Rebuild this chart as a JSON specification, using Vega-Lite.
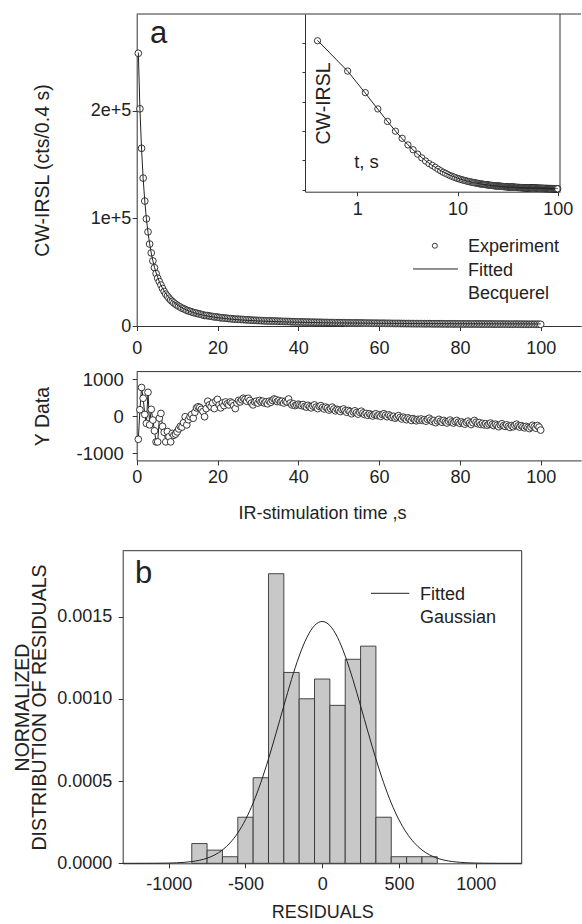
{
  "$schema": "https://vega.github.io/schema/vega-lite/v6.json",
  "width": 582,
  "height": 924,
  "autosize": {"type": "none"},
  "padding": 0,
  "background": "white",
  "config": {
    "view": {"stroke": null},
    "font": "Liberation Sans",
    "axis": {"grid": false, "domainColor": "#333", "tickColor": "#333", "tickSize": 4.5, "labelFontSize": 18, "titleFontSize": 18, "labelColor": "#222", "titleColor": "#222", "titleFontWeight": "normal", "labelFlush": false, "labelOverlap": false},
    "text": {"font": "Liberation Sans", "fontSize": 18, "color": "#222"}
  },
  "datasets": {
    "decay": [
      {"t":0.4,"fit":254100,"cw":253470,"r":-630},
      {"t":0.8,"fit":201700,"cw":201870,"r":170},
      {"t":1.2,"fit":164400,"cw":165170,"r":770},
      {"t":1.6,"fit":137000,"cw":137480,"r":480},
      {"t":2.0,"fit":116100,"cw":116140,"r":40},
      {"t":2.4,"fit":99800,"cw":99600,"r":-200},
      {"t":2.8,"fit":86800,"cw":87440,"r":640},
      {"t":3.2,"fit":76400,"cw":76160,"r":-240},
      {"t":3.6,"fit":67800,"cw":67980,"r":180},
      {"t":4.0,"fit":60600,"cw":60490,"r":-110},
      {"t":4.4,"fit":54600,"cw":54200,"r":-400},
      {"t":4.8,"fit":49500,"cw":48800,"r":-700},
      {"t":5.2,"fit":45100,"cw":44400,"r":-700},
      {"t":5.6,"fit":41300,"cw":41240,"r":-60},
      {"t":6.0,"fit":38000,"cw":38070,"r":70},
      {"t":6.4,"fit":35100,"cw":34820,"r":-280},
      {"t":6.8,"fit":32500,"cw":32060,"r":-440},
      {"t":7.2,"fit":30300,"cw":29600,"r":-700},
      {"t":7.6,"fit":28200,"cw":27780,"r":-420},
      {"t":8.0,"fit":26400,"cw":25840,"r":-560},
      {"t":8.4,"fit":24800,"cw":24100,"r":-700},
      {"t":8.8,"fit":23300,"cw":22830,"r":-470},
      {"t":9.2,"fit":22000,"cw":21480,"r":-520},
      {"t":9.6,"fit":20800,"cw":20310,"r":-490},
      {"t":10.0,"fit":19700,"cw":19270,"r":-430},
      {"t":10.4,"fit":18700,"cw":18350,"r":-350},
      {"t":10.8,"fit":17800,"cw":17520,"r":-280},
      {"t":11.2,"fit":16900,"cw":16600,"r":-300},
      {"t":11.6,"fit":16200,"cw":16020,"r":-180},
      {"t":12.0,"fit":15400,"cw":15380,"r":-20},
      {"t":12.4,"fit":14800,"cw":14560,"r":-240},
      {"t":12.8,"fit":14200,"cw":14100,"r":-100},
      {"t":13.2,"fit":13600,"cw":13580,"r":-20},
      {"t":13.6,"fit":13100,"cw":13140,"r":40},
      {"t":14.0,"fit":12600,"cw":12540,"r":-60},
      {"t":14.4,"fit":12100,"cw":12200,"r":100},
      {"t":14.8,"fit":11700,"cw":11920,"r":220},
      {"t":15.2,"fit":11200,"cw":11450,"r":250},
      {"t":15.6,"fit":10900,"cw":11130,"r":230},
      {"t":16.0,"fit":10500,"cw":10680,"r":180},
      {"t":16.4,"fit":10150,"cw":10270,"r":120},
      {"t":16.8,"fit":9830,"cw":9810,"r":-20},
      {"t":17.2,"fit":9530,"cw":9730,"r":200},
      {"t":17.6,"fit":9250,"cw":9650,"r":400},
      {"t":18.0,"fit":8980,"cw":9280,"r":300},
      {"t":18.4,"fit":8720,"cw":8970,"r":250},
      {"t":18.8,"fit":8480,"cw":8830,"r":350},
      {"t":19.2,"fit":8250,"cw":8450,"r":200},
      {"t":19.6,"fit":8030,"cw":8430,"r":400},
      {"t":20.0,"fit":7820,"cw":8270,"r":450},
      {"t":20.4,"fit":7620,"cw":7920,"r":300},
      {"t":20.8,"fit":7440,"cw":7660,"r":220},
      {"t":21.2,"fit":7260,"cw":7610,"r":350},
      {"t":21.6,"fit":7090,"cw":7370,"r":280},
      {"t":22.0,"fit":6930,"cw":7310,"r":380},
      {"t":22.4,"fit":6770,"cw":7100,"r":330},
      {"t":22.8,"fit":6620,"cw":6920,"r":300},
      {"t":23.2,"fit":6480,"cw":6860,"r":380},
      {"t":23.6,"fit":6340,"cw":6690,"r":350},
      {"t":24.0,"fit":6210,"cw":6490,"r":280},
      {"t":24.4,"fit":6090,"cw":6290,"r":200},
      {"t":24.8,"fit":5970,"cw":6320,"r":350},
      {"t":25.2,"fit":5850,"cw":6270,"r":420},
      {"t":25.6,"fit":5740,"cw":6120,"r":380},
      {"t":26.0,"fit":5630,"cw":6070,"r":440},
      {"t":26.4,"fit":5530,"cw":6010,"r":480},
      {"t":26.8,"fit":5430,"cw":5880,"r":450},
      {"t":27.2,"fit":5330,"cw":5730,"r":400},
      {"t":27.6,"fit":5240,"cw":5720,"r":480},
      {"t":28.0,"fit":5160,"cw":5580,"r":420},
      {"t":28.4,"fit":5070,"cw":5420,"r":350},
      {"t":28.8,"fit":4990,"cw":5290,"r":300},
      {"t":29.2,"fit":4910,"cw":5290,"r":380},
      {"t":29.6,"fit":4830,"cw":5230,"r":400},
      {"t":30.0,"fit":4760,"cw":5110,"r":350},
      {"t":30.4,"fit":4690,"cw":5110,"r":420},
      {"t":30.8,"fit":4620,"cw":5000,"r":380},
      {"t":31.2,"fit":4550,"cw":4950,"r":400},
      {"t":31.6,"fit":4490,"cw":4840,"r":350},
      {"t":32.0,"fit":4430,"cw":4810,"r":380},
      {"t":32.4,"fit":4370,"cw":4700,"r":330},
      {"t":32.8,"fit":4310,"cw":4710,"r":400},
      {"t":33.2,"fit":4250,"cw":4620,"r":370},
      {"t":33.6,"fit":4200,"cw":4620,"r":420},
      {"t":34.0,"fit":4150,"cw":4610,"r":460},
      {"t":34.4,"fit":4100,"cw":4540,"r":440},
      {"t":34.8,"fit":4050,"cw":4440,"r":390},
      {"t":35.2,"fit":4000,"cw":4420,"r":420},
      {"t":35.6,"fit":3950,"cw":4330,"r":380},
      {"t":36.0,"fit":3900,"cw":4300,"r":400},
      {"t":36.4,"fit":3860,"cw":4210,"r":350},
      {"t":36.8,"fit":3820,"cw":4220,"r":400},
      {"t":37.2,"fit":3780,"cw":4160,"r":380},
      {"t":37.6,"fit":3740,"cw":4200,"r":460},
      {"t":38.0,"fit":3700,"cw":4050,"r":350},
      {"t":38.4,"fit":3660,"cw":3960,"r":300},
      {"t":38.8,"fit":3620,"cw":3950,"r":330},
      {"t":39.2,"fit":3580,"cw":3860,"r":280},
      {"t":39.6,"fit":3550,"cw":3850,"r":300},
      {"t":40.0,"fit":3510,"cw":3830,"r":320},
      {"t":40.4,"fit":3480,"cw":3780,"r":300},
      {"t":40.8,"fit":3450,"cw":3730,"r":280},
      {"t":41.2,"fit":3410,"cw":3720,"r":310},
      {"t":41.6,"fit":3380,"cw":3640,"r":260},
      {"t":42.0,"fit":3350,"cw":3590,"r":240},
      {"t":42.4,"fit":3320,"cw":3610,"r":290},
      {"t":42.8,"fit":3290,"cw":3540,"r":250},
      {"t":43.2,"fit":3270,"cw":3490,"r":220},
      {"t":43.6,"fit":3240,"cw":3510,"r":270},
      {"t":44.0,"fit":3210,"cw":3510,"r":300},
      {"t":44.4,"fit":3190,"cw":3430,"r":240},
      {"t":44.8,"fit":3160,"cw":3360,"r":200},
      {"t":45.2,"fit":3140,"cw":3400,"r":260},
      {"t":45.6,"fit":3110,"cw":3390,"r":280},
      {"t":46.0,"fit":3090,"cw":3320,"r":230},
      {"t":46.4,"fit":3060,"cw":3250,"r":190},
      {"t":46.8,"fit":3040,"cw":3280,"r":240},
      {"t":47.2,"fit":3020,"cw":3230,"r":210},
      {"t":47.6,"fit":3000,"cw":3160,"r":160},
      {"t":48.0,"fit":2980,"cw":3180,"r":200},
      {"t":48.4,"fit":2950,"cw":3190,"r":240},
      {"t":48.8,"fit":2930,"cw":3120,"r":190},
      {"t":49.2,"fit":2910,"cw":3050,"r":140},
      {"t":49.6,"fit":2900,"cw":3080,"r":180},
      {"t":50.0,"fit":2880,"cw":3040,"r":160},
      {"t":50.4,"fit":2860,"cw":2980,"r":120},
      {"t":50.8,"fit":2840,"cw":3010,"r":170},
      {"t":51.2,"fit":2820,"cw":3010,"r":190},
      {"t":51.6,"fit":2800,"cw":2940,"r":140},
      {"t":52.0,"fit":2790,"cw":2890,"r":100},
      {"t":52.4,"fit":2770,"cw":2920,"r":150},
      {"t":52.8,"fit":2750,"cw":2870,"r":120},
      {"t":53.2,"fit":2740,"cw":2800,"r":60},
      {"t":53.6,"fit":2720,"cw":2830,"r":110},
      {"t":54.0,"fit":2710,"cw":2850,"r":140},
      {"t":54.4,"fit":2690,"cw":2780,"r":90},
      {"t":54.8,"fit":2680,"cw":2730,"r":50},
      {"t":55.2,"fit":2660,"cw":2760,"r":100},
      {"t":55.6,"fit":2650,"cw":2780,"r":130},
      {"t":56.0,"fit":2630,"cw":2710,"r":80},
      {"t":56.4,"fit":2620,"cw":2660,"r":40},
      {"t":56.8,"fit":2600,"cw":2670,"r":70},
      {"t":57.2,"fit":2590,"cw":2610,"r":20},
      {"t":57.6,"fit":2580,"cw":2640,"r":60},
      {"t":58.0,"fit":2570,"cw":2600,"r":30},
      {"t":58.4,"fit":2550,"cw":2550,"r":0},
      {"t":58.8,"fit":2540,"cw":2580,"r":40},
      {"t":59.2,"fit":2530,"cw":2590,"r":60},
      {"t":59.6,"fit":2520,"cw":2530,"r":10},
      {"t":60.0,"fit":2510,"cw":2540,"r":30},
      {"t":60.4,"fit":2490,"cw":2480,"r":-10},
      {"t":60.8,"fit":2480,"cw":2520,"r":40},
      {"t":61.2,"fit":2470,"cw":2530,"r":60},
      {"t":61.6,"fit":2460,"cw":2480,"r":20},
      {"t":62.0,"fit":2450,"cw":2430,"r":-20},
      {"t":62.4,"fit":2440,"cw":2470,"r":30},
      {"t":62.8,"fit":2430,"cw":2430,"r":0},
      {"t":63.2,"fit":2420,"cw":2380,"r":-40},
      {"t":63.6,"fit":2410,"cw":2400,"r":-10},
      {"t":64.0,"fit":2400,"cw":2340,"r":-60},
      {"t":64.4,"fit":2390,"cw":2360,"r":-30},
      {"t":64.8,"fit":2380,"cw":2390,"r":10},
      {"t":65.2,"fit":2370,"cw":2330,"r":-40},
      {"t":65.6,"fit":2360,"cw":2280,"r":-80},
      {"t":66.0,"fit":2350,"cw":2320,"r":-30},
      {"t":66.4,"fit":2340,"cw":2280,"r":-60},
      {"t":66.8,"fit":2330,"cw":2230,"r":-100},
      {"t":67.2,"fit":2330,"cw":2280,"r":-50},
      {"t":67.6,"fit":2320,"cw":2240,"r":-80},
      {"t":68.0,"fit":2310,"cw":2190,"r":-120},
      {"t":68.4,"fit":2300,"cw":2230,"r":-70},
      {"t":68.8,"fit":2290,"cw":2190,"r":-100},
      {"t":69.2,"fit":2290,"cw":2160,"r":-130},
      {"t":69.6,"fit":2280,"cw":2190,"r":-90},
      {"t":70.0,"fit":2270,"cw":2160,"r":-110},
      {"t":70.4,"fit":2260,"cw":2180,"r":-80},
      {"t":70.8,"fit":2250,"cw":2130,"r":-120},
      {"t":71.2,"fit":2250,"cw":2150,"r":-100},
      {"t":71.6,"fit":2240,"cw":2100,"r":-140},
      {"t":72.0,"fit":2230,"cw":2140,"r":-90},
      {"t":72.4,"fit":2230,"cw":2170,"r":-60},
      {"t":72.8,"fit":2220,"cw":2110,"r":-110},
      {"t":73.2,"fit":2210,"cw":2060,"r":-150},
      {"t":73.6,"fit":2200,"cw":2080,"r":-120},
      {"t":74.0,"fit":2200,"cw":2020,"r":-180},
      {"t":74.4,"fit":2190,"cw":2060,"r":-130},
      {"t":74.8,"fit":2190,"cw":2100,"r":-90},
      {"t":75.2,"fit":2180,"cw":2040,"r":-140},
      {"t":75.6,"fit":2170,"cw":2000,"r":-170},
      {"t":76.0,"fit":2170,"cw":2050,"r":-120},
      {"t":76.4,"fit":2160,"cw":2000,"r":-160},
      {"t":76.8,"fit":2150,"cw":1960,"r":-190},
      {"t":77.2,"fit":2150,"cw":2010,"r":-140},
      {"t":77.6,"fit":2140,"cw":2030,"r":-110},
      {"t":78.0,"fit":2140,"cw":1980,"r":-160},
      {"t":78.4,"fit":2130,"cw":1940,"r":-190},
      {"t":78.8,"fit":2130,"cw":1980,"r":-150},
      {"t":79.2,"fit":2120,"cw":2000,"r":-120},
      {"t":79.6,"fit":2120,"cw":1950,"r":-170},
      {"t":80.0,"fit":2110,"cw":1910,"r":-200},
      {"t":80.4,"fit":2100,"cw":1940,"r":-160},
      {"t":80.8,"fit":2100,"cw":1910,"r":-190},
      {"t":81.2,"fit":2090,"cw":1870,"r":-220},
      {"t":81.6,"fit":2090,"cw":1920,"r":-170},
      {"t":82.0,"fit":2080,"cw":1940,"r":-140},
      {"t":82.4,"fit":2080,"cw":1890,"r":-190},
      {"t":82.8,"fit":2070,"cw":1840,"r":-230},
      {"t":83.2,"fit":2070,"cw":1890,"r":-180},
      {"t":83.6,"fit":2060,"cw":1940,"r":-120},
      {"t":84.0,"fit":2060,"cw":1890,"r":-170},
      {"t":84.4,"fit":2060,"cw":1850,"r":-210},
      {"t":84.8,"fit":2050,"cw":1870,"r":-180},
      {"t":85.2,"fit":2050,"cw":1820,"r":-230},
      {"t":85.6,"fit":2040,"cw":1840,"r":-200},
      {"t":86.0,"fit":2040,"cw":1800,"r":-240},
      {"t":86.4,"fit":2030,"cw":1820,"r":-210},
      {"t":86.8,"fit":2030,"cw":1780,"r":-250},
      {"t":87.2,"fit":2020,"cw":1800,"r":-220},
      {"t":87.6,"fit":2020,"cw":1830,"r":-190},
      {"t":88.0,"fit":2020,"cw":1790,"r":-230},
      {"t":88.4,"fit":2010,"cw":1750,"r":-260},
      {"t":88.8,"fit":2010,"cw":1790,"r":-220},
      {"t":89.2,"fit":2000,"cw":1750,"r":-250},
      {"t":89.6,"fit":2000,"cw":1710,"r":-290},
      {"t":90.0,"fit":2000,"cw":1760,"r":-240},
      {"t":90.4,"fit":1990,"cw":1780,"r":-210},
      {"t":90.8,"fit":1990,"cw":1730,"r":-260},
      {"t":91.2,"fit":1990,"cw":1710,"r":-280},
      {"t":91.6,"fit":1980,"cw":1740,"r":-240},
      {"t":92.0,"fit":1980,"cw":1700,"r":-280},
      {"t":92.4,"fit":1970,"cw":1660,"r":-310},
      {"t":92.8,"fit":1970,"cw":1710,"r":-260},
      {"t":93.2,"fit":1970,"cw":1680,"r":-290},
      {"t":93.6,"fit":1960,"cw":1710,"r":-250},
      {"t":94.0,"fit":1960,"cw":1740,"r":-220},
      {"t":94.4,"fit":1960,"cw":1690,"r":-270},
      {"t":94.8,"fit":1950,"cw":1650,"r":-300},
      {"t":95.2,"fit":1950,"cw":1690,"r":-260},
      {"t":95.6,"fit":1950,"cw":1660,"r":-290},
      {"t":96.0,"fit":1940,"cw":1620,"r":-320},
      {"t":96.4,"fit":1940,"cw":1660,"r":-280},
      {"t":96.8,"fit":1940,"cw":1630,"r":-310},
      {"t":97.2,"fit":1930,"cw":1590,"r":-340},
      {"t":97.6,"fit":1930,"cw":1630,"r":-300},
      {"t":98.0,"fit":1930,"cw":1680,"r":-250},
      {"t":98.4,"fit":1920,"cw":1630,"r":-290},
      {"t":98.8,"fit":1920,"cw":1590,"r":-330},
      {"t":99.2,"fit":1920,"cw":1660,"r":-260},
      {"t":99.6,"fit":1920,"cw":1620,"r":-300},
      {"t":100.0,"fit":1910,"cw":1530,"r":-380}
    ],
    "bars": [
      {"lo":-850,"hi":-750,"d":0.00012},
      {"lo":-750,"hi":-650,"d":0.00008},
      {"lo":-650,"hi":-550,"d":0.00004},
      {"lo":-550,"hi":-450,"d":0.00028},
      {"lo":-450,"hi":-350,"d":0.00052},
      {"lo":-350,"hi":-250,"d":0.00176},
      {"lo":-250,"hi":-150,"d":0.00116},
      {"lo":-150,"hi":-50,"d":0.00100},
      {"lo":-50,"hi":50,"d":0.00112},
      {"lo":50,"hi":150,"d":0.00096},
      {"lo":150,"hi":250,"d":0.00124},
      {"lo":250,"hi":350,"d":0.00132},
      {"lo":350,"hi":450,"d":0.00028},
      {"lo":450,"hi":550,"d":0.00004},
      {"lo":550,"hi":650,"d":0.00004},
      {"lo":650,"hi":750,"d":0.00004}
    ],
    "gauss": [
      {"x":-1300,"g":0},{"x":-1250,"g":0},{"x":-1200,"g":0.0000001},{"x":-1150,"g":0.0000002},
      {"x":-1100,"g":0.0000004},{"x":-1050,"g":0.0000008},{"x":-1000,"g":0.0000015},{"x":-950,"g":0.000003},
      {"x":-900,"g":0.0000057},{"x":-850,"g":0.0000104},{"x":-800,"g":0.0000182},{"x":-750,"g":0.000031},
      {"x":-700,"g":0.000051},{"x":-650,"g":0.000081},{"x":-600,"g":0.0001245},{"x":-550,"g":0.0001846},
      {"x":-500,"g":0.0002646},{"x":-450,"g":0.0003665},{"x":-400,"g":0.0004906},{"x":-350,"g":0.0006345},
      {"x":-300,"g":0.0007929},{"x":-250,"g":0.0009575},{"x":-200,"g":0.0011173},{"x":-150,"g":0.0012598},
      {"x":-100,"g":0.0013725},{"x":-50,"g":0.001445},{"x":0,"g":0.00147},{"x":50,"g":0.001445},
      {"x":100,"g":0.0013725},{"x":150,"g":0.0012598},{"x":200,"g":0.0011173},{"x":250,"g":0.0009575},
      {"x":300,"g":0.0007929},{"x":350,"g":0.0006345},{"x":400,"g":0.0004906},{"x":450,"g":0.0003665},
      {"x":500,"g":0.0002646},{"x":550,"g":0.0001846},{"x":600,"g":0.0001245},{"x":650,"g":0.000081},
      {"x":700,"g":0.000051},{"x":750,"g":0.000031},{"x":800,"g":0.0000182},{"x":850,"g":0.0000104},
      {"x":900,"g":0.0000057},{"x":950,"g":0.000003},{"x":1000,"g":0.0000015},{"x":1050,"g":0.0000008},
      {"x":1100,"g":0.0000004},{"x":1150,"g":0.0000002},{"x":1200,"g":0.0000001},{"x":1250,"g":0},{"x":1300,"g":0}
    ]
  },
  "layer": [
    {
      "layer": [
        {
          "data": {"name": "decay"},
          "mark": {"type": "circle", "size": 45, "fill": "white", "stroke": "#222", "strokeWidth": 0.9, "opacity": 1},
          "encoding": {
            "x": {"field": "t", "type": "quantitative",
              "scale": {"domain": [0, 110], "range": [136.7, 581.1], "nice": false, "zero": false},
              "axis": {"orient": "bottom", "offset": -598, "values": [0, 20, 40, 60, 80, 100], "labelPadding": 8.9, "title": null}},
            "y": {"field": "cw", "type": "quantitative",
              "scale": {"domain": [0, 290000], "range": [326, 14], "nice": false},
              "axis": {"orient": "left", "offset": -136.7, "values": [0, 100000, 200000], "labelPadding": 1.5,
                "labelExpr": "datum.value == 0 ? '0' : format(datum.value, '.0e')",
                "title": "CW-IRSL  (cts/0.4 s)", "titleFontSize": 19.5, "titlePadding": 38}}
          }
        },
        {
          "data": {"name": "decay"},
          "mark": {"type": "line", "color": "#222", "strokeWidth": 1},
          "encoding": {
            "x": {"field": "t", "type": "quantitative"},
            "y": {"field": "fit", "type": "quantitative"}
          }
        },
        {
          "data": {"values": [{}]},
          "mark": {"type": "rule", "color": "#333", "strokeWidth": 1},
          "encoding": {"x": {"datum": 0, "type": "quantitative"}, "x2": {"datum": 110}, "y": {"datum": 290000, "type": "quantitative"}}
        },
        {
          "data": {"values": [{}]},
          "mark": {"type": "text", "text": "a", "fontSize": 31, "align": "left", "baseline": "alphabetic"},
          "encoding": {"x": {"datum": 3.3, "type": "quantitative"}, "y": {"datum": 263300, "type": "quantitative"}}
        },
        {
          "data": {"values": [{}]},
          "mark": {"type": "circle", "size": 25, "fill": "white", "stroke": "#222", "strokeWidth": 0.9, "opacity": 1},
          "encoding": {"x": {"datum": 73.8, "type": "quantitative"}, "y": {"datum": 74600, "type": "quantitative"}}
        },
        {
          "data": {"values": [{}]},
          "mark": {"type": "rule", "color": "#222", "strokeWidth": 1},
          "encoding": {"x": {"datum": 68.4, "type": "quantitative"}, "x2": {"datum": 79.5}, "y": {"datum": 53000, "type": "quantitative"}}
        },
        {
          "data": {"values": [{}]},
          "mark": {"type": "text", "text": "Experiment", "align": "left", "baseline": "middle"},
          "encoding": {"x": {"datum": 82, "type": "quantitative"}, "y": {"datum": 73000, "type": "quantitative"}}
        },
        {
          "data": {"values": [{}]},
          "mark": {"type": "text", "text": "Fitted", "align": "left", "baseline": "middle"},
          "encoding": {"x": {"datum": 82, "type": "quantitative"}, "y": {"datum": 51100, "type": "quantitative"}}
        },
        {
          "data": {"values": [{}]},
          "mark": {"type": "text", "text": "Becquerel", "align": "left", "baseline": "middle"},
          "encoding": {"x": {"datum": 82, "type": "quantitative"}, "y": {"datum": 29500, "type": "quantitative"}}
        }
      ]
    },
    {
      "layer": [
        {
          "data": {"name": "decay"},
          "mark": {"type": "circle", "size": 40, "fill": "white", "stroke": "#222", "strokeWidth": 0.9, "opacity": 1},
          "encoding": {
            "x": {"field": "t", "type": "quantitative",
              "scale": {"type": "log", "domain": [0.3, 105.5], "range": [305, 560], "nice": false},
              "axis": {"orient": "bottom", "offset": -732.3, "values": [1, 10, 100], "tickSize": 4, "labelPadding": 4.7,
                "title": "t, s", "titleX": 366, "titleY": -30.7, "titleAlign": "center", "titleBaseline": "middle", "titleFontSize": 18.5}},
            "y": {"field": "cw", "type": "quantitative",
              "scale": {"domain": [-3400, 299000], "range": [191.7, 14], "nice": false, "zero": false},
              "axis": {"orient": "left", "offset": -305, "values": [0, 50000, 100000, 150000, 200000, 250000], "labels": false, "tickSize": 3,
                "title": "CW-IRSL", "titleX": 18, "titleY": 103, "titleAngle": -90, "titleAlign": "center", "titleBaseline": "middle", "titleFontSize": 19.5}}
          }
        },
        {
          "data": {"name": "decay"},
          "mark": {"type": "line", "color": "#222", "strokeWidth": 1},
          "encoding": {
            "x": {"field": "t", "type": "quantitative"},
            "y": {"field": "fit", "type": "quantitative"}
          }
        },
        {
          "data": {"values": [{}]},
          "mark": {"type": "rule", "color": "#333", "strokeWidth": 1},
          "encoding": {"x": {"datum": 105.5, "type": "quantitative"}, "y": {"datum": -3400, "type": "quantitative"}, "y2": {"datum": 299000}}
        }
      ]
    },
    {
      "layer": [
        {
          "data": {"name": "decay"},
          "mark": {"type": "line", "color": "#222", "strokeWidth": 1},
          "encoding": {
            "x": {"field": "t", "type": "quantitative",
              "scale": {"domain": [0, 110], "range": [136.7, 581.1], "nice": false, "zero": false},
              "axis": {"orient": "bottom", "offset": -463.6, "values": [0, 20, 40, 60, 80, 100], "labelPadding": 4,
                "title": "IR-stimulation time ,s", "titleX": 322, "titlePadding": 18}},
            "y": {"field": "r", "type": "quantitative",
              "scale": {"domain": [-1200, 1200], "range": [460.4, 371.6], "nice": false},
              "axis": {"orient": "left", "offset": -136.7, "values": [-1000, 0, 1000], "labelPadding": 8.9,
                "labelExpr": "'' + datum.value", "labelFontSize": 18.5,
                "title": "Y Data", "titleFontSize": 19.5, "titlePadding": 23}}
          }
        },
        {
          "data": {"name": "decay"},
          "mark": {"type": "circle", "size": 45, "fill": "white", "stroke": "#222", "strokeWidth": 0.9, "opacity": 1},
          "encoding": {
            "x": {"field": "t", "type": "quantitative"},
            "y": {"field": "r", "type": "quantitative"}
          }
        },
        {
          "data": {"values": [{}]},
          "mark": {"type": "rule", "color": "#333", "strokeWidth": 1},
          "encoding": {"x": {"datum": 0, "type": "quantitative"}, "x2": {"datum": 110}, "y": {"datum": 1200, "type": "quantitative"}}
        }
      ]
    },
    {
      "layer": [
        {
          "data": {"name": "bars"},
          "mark": {"type": "rect", "fill": "#c8c8c8", "stroke": "#333", "strokeWidth": 0.9},
          "encoding": {
            "x": {"field": "lo", "type": "quantitative",
              "scale": {"domain": [-1300, 1300], "range": [122.7, 521.7], "nice": false, "zero": false},
              "axis": {"orient": "bottom", "offset": -60.7, "values": [-1000, -500, 0, 500, 1000], "labelPadding": 7.6,
                "labelExpr": "'' + datum.value",
                "title": "RESIDUALS", "titlePadding": 10}},
            "x2": {"field": "hi"},
            "y": {"field": "d", "type": "quantitative",
              "scale": {"domain": [0, 0.0019], "range": [863.3, 550.7], "nice": false},
              "axis": {"orient": "left", "offset": -122.7, "values": [0, 0.0005, 0.001, 0.0015], "format": ".4f", "labelPadding": 6.5,
                "title": ["NORMALIZED", "DISTRIBUTION OF RESIDUALS"], "titleFontSize": 19.5, "titleLineHeight": 17.6, "titlePadding": 7}},
            "y2": {"datum": 0}
          }
        },
        {
          "data": {"name": "gauss"},
          "mark": {"type": "line", "color": "#222", "strokeWidth": 1, "interpolate": "monotone"},
          "encoding": {
            "x": {"field": "x", "type": "quantitative"},
            "y": {"field": "g", "type": "quantitative"}
          }
        },
        {
          "data": {"values": [{}]},
          "mark": {"type": "rule", "color": "#333", "strokeWidth": 1},
          "encoding": {"x": {"datum": -1300, "type": "quantitative"}, "x2": {"datum": 1300}, "y": {"datum": 0.0019, "type": "quantitative"}}
        },
        {
          "data": {"values": [{}]},
          "mark": {"type": "rule", "color": "#333", "strokeWidth": 1},
          "encoding": {"x": {"datum": 1300, "type": "quantitative"}, "y": {"datum": 0, "type": "quantitative"}, "y2": {"datum": 0.0019}}
        },
        {
          "data": {"values": [{}]},
          "mark": {"type": "text", "text": "b", "fontSize": 31, "align": "left", "baseline": "alphabetic"},
          "encoding": {"x": {"datum": -1220, "type": "quantitative"}, "y": {"datum": 0.001702, "type": "quantitative"}}
        },
        {
          "data": {"values": [{}]},
          "mark": {"type": "rule", "color": "#222", "strokeWidth": 1},
          "encoding": {"x": {"datum": 318, "type": "quantitative"}, "x2": {"datum": 567}, "y": {"datum": 0.001641, "type": "quantitative"}}
        },
        {
          "data": {"values": [{}]},
          "mark": {"type": "text", "text": "Fitted", "align": "left", "baseline": "middle"},
          "encoding": {"x": {"datum": 637, "type": "quantitative"}, "y": {"datum": 0.001633, "type": "quantitative"}}
        },
        {
          "data": {"values": [{}]},
          "mark": {"type": "text", "text": "Gaussian", "align": "left", "baseline": "middle"},
          "encoding": {"x": {"datum": 637, "type": "quantitative"}, "y": {"datum": 0.001491, "type": "quantitative"}}
        }
      ]
    }
  ],
  "resolve": {
    "scale": {"x": "independent", "y": "independent"},
    "axis": {"x": "independent", "y": "independent"}
  }
}
